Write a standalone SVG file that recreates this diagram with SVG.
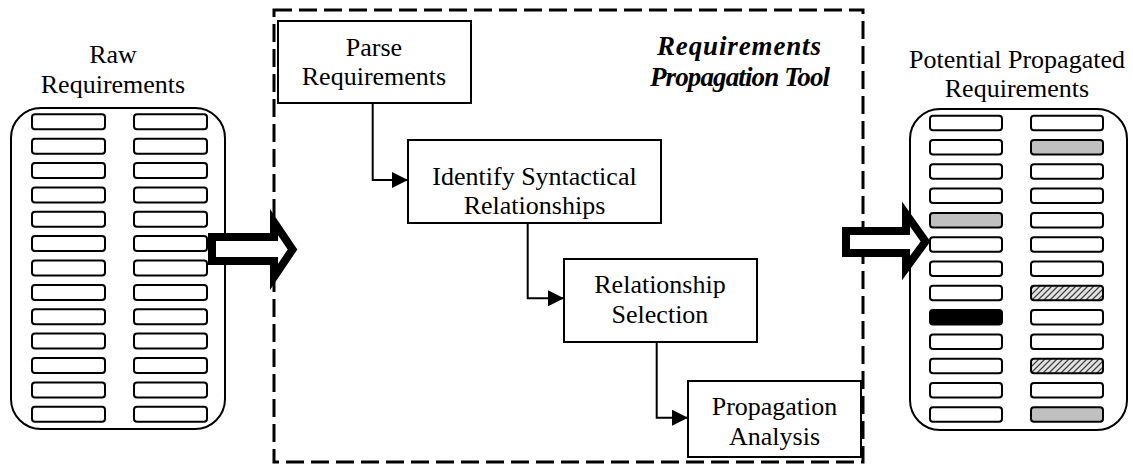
<svg xmlns="http://www.w3.org/2000/svg" width="1133" height="464" viewBox="0 0 1133 464">
  <style>
    .lbl { font-family: "Liberation Serif", "Times New Roman", serif; font-size: 26px; fill: #000; text-anchor: middle; }
    .title { font-family: "Liberation Serif", "Times New Roman", serif; font-size: 27px; font-weight: bold; font-style: italic; fill: #000; text-anchor: middle; }
    .panel { fill: #fff; stroke: #000; stroke-width: 2; }
    .bar { fill: #fff; stroke: #000; stroke-width: 2; }
    .grey { fill: #c0c0c0; }
    .black { fill: #000; }
    .hatch { fill: url(#hatch); }
    .box { fill: #fff; stroke: #000; stroke-width: 2; }
    .conn { fill: none; stroke: #000; stroke-width: 2; }
    .bigarrow { fill: #fff; stroke: #000; stroke-width: 8; stroke-linejoin: miter; stroke-miterlimit: 10; }
    .frame { fill: none; stroke: #000; stroke-width: 3; stroke-dasharray: 18 7; }
  </style>
  <defs>
    <pattern id="hatch" patternUnits="userSpaceOnUse" width="6" height="6">
      <rect width="6" height="6" fill="#e4e4e4"/>
      <path d="M-1,1 L1,-1 M0,6 L6,0 M5,7 L7,5" stroke="#444" stroke-width="1.3"/>
    </pattern>
    <marker id="tri" markerUnits="userSpaceOnUse" markerWidth="16" markerHeight="16" refX="16" refY="8" orient="auto">
      <path d="M0,0 L16,8 L0,16 Z" fill="#000"/>
    </marker>
    <rect id="b1" class="bar" width="73" height="15" rx="3"/>
    <rect id="b2" class="bar" width="72" height="14.5" rx="3"/>
  </defs>

  <!-- Tool boundary -->
  <g id="tool-frame">
    <rect class="frame" x="274" y="10" width="589" height="452"/>
    <text class="title" x="739" y="55" textLength="164" lengthAdjust="spacing">Requirements</text>
    <text class="title" x="740" y="86" textLength="180" lengthAdjust="spacing">Propagation Tool</text>
  </g>

  <!-- Input list -->
  <g id="raw-requirements">
    <text class="lbl" x="113" y="63">Raw</text>
    <text class="lbl" x="113" y="93">Requirements</text>
    <rect class="panel" x="11" y="108" width="214" height="321" rx="30"/>
    <g>
      <use href="#b1" x="32" y="114.3"/><use href="#b1" x="134" y="114.3"/>
      <use href="#b1" x="32" y="138.7"/><use href="#b1" x="134" y="138.7"/>
      <use href="#b1" x="32" y="163.0"/><use href="#b1" x="134" y="163.0"/>
      <use href="#b1" x="32" y="187.4"/><use href="#b1" x="134" y="187.4"/>
      <use href="#b1" x="32" y="211.8"/><use href="#b1" x="134" y="211.8"/>
      <use href="#b1" x="32" y="236.1"/><use href="#b1" x="134" y="236.1"/>
      <use href="#b1" x="32" y="260.5"/><use href="#b1" x="134" y="260.5"/>
      <use href="#b1" x="32" y="284.9"/><use href="#b1" x="134" y="284.9"/>
      <use href="#b1" x="32" y="309.3"/><use href="#b1" x="134" y="309.3"/>
      <use href="#b1" x="32" y="333.6"/><use href="#b1" x="134" y="333.6"/>
      <use href="#b1" x="32" y="358.0"/><use href="#b1" x="134" y="358.0"/>
      <use href="#b1" x="32" y="382.4"/><use href="#b1" x="134" y="382.4"/>
      <use href="#b1" x="32" y="406.7"/><use href="#b1" x="134" y="406.7"/>
    </g>
  </g>

  <!-- Output list -->
  <g id="propagated-requirements">
    <text class="lbl" x="1017" y="68">Potential Propagated</text>
    <text class="lbl" x="1017" y="97">Requirements</text>
    <rect class="panel" x="910" y="109" width="217" height="321" rx="30"/>
    <g>
      <use href="#b2" x="930" y="115.7"/><use href="#b2" x="1031" y="115.7"/>
      <use href="#b2" x="930" y="140.0"/><rect class="bar grey" x="1031" y="140.0" width="72" height="14.5" rx="3"/>
      <use href="#b2" x="930" y="164.3"/><use href="#b2" x="1031" y="164.3"/>
      <use href="#b2" x="930" y="188.6"/><use href="#b2" x="1031" y="188.6"/>
      <rect class="bar grey" x="930" y="212.9" width="72" height="14.5" rx="3"/><use href="#b2" x="1031" y="212.9"/>
      <use href="#b2" x="930" y="237.2"/><use href="#b2" x="1031" y="237.2"/>
      <use href="#b2" x="930" y="261.5"/><use href="#b2" x="1031" y="261.5"/>
      <use href="#b2" x="930" y="285.8"/><rect class="bar hatch" x="1031" y="285.8" width="72" height="14.5" rx="3"/>
      <rect class="bar black" x="930" y="310.1" width="72" height="14.5" rx="3"/><use href="#b2" x="1031" y="310.1"/>
      <use href="#b2" x="930" y="334.4"/><use href="#b2" x="1031" y="334.4"/>
      <use href="#b2" x="930" y="358.7"/><rect class="bar hatch" x="1031" y="358.7" width="72" height="14.5" rx="3"/>
      <use href="#b2" x="930" y="383.0"/><use href="#b2" x="1031" y="383.0"/>
      <use href="#b2" x="930" y="407.3"/><rect class="bar grey" x="1031" y="407.3" width="72" height="14.5" rx="3"/>
    </g>
  </g>

  <!-- Process steps -->
  <g id="parse">
    <rect class="box" x="278" y="21" width="193" height="82"/>
    <text class="lbl" x="374" y="56">Parse</text>
    <text class="lbl" x="374" y="85">Requirements</text>
  </g>
  <g id="identify">
    <rect class="box" x="408" y="140" width="253" height="83"/>
    <text class="lbl" x="534.5" y="185">Identify Syntactical</text>
    <text class="lbl" x="534.5" y="214">Relationships</text>
  </g>
  <g id="selection">
    <rect class="box" x="564" y="259" width="193" height="83"/>
    <text class="lbl" x="660" y="293">Relationship</text>
    <text class="lbl" x="660" y="323">Selection</text>
  </g>
  <g id="analysis">
    <rect class="box" x="688" y="381" width="173" height="76"/>
    <text class="lbl" x="774.5" y="415">Propagation</text>
    <text class="lbl" x="774.5" y="445">Analysis</text>
  </g>

  <!-- Connectors -->
  <g id="connectors">
    <path class="conn" d="M372.7,103 V180 H408" marker-end="url(#tri)"/>
    <path class="conn" d="M527.7,223 V298.3 H564" marker-end="url(#tri)"/>
    <path class="conn" d="M656.7,342 V417.7 H688" marker-end="url(#tri)"/>
    <path class="bigarrow" d="M212,237 H274 V222 L292.5,249.5 L274,277 V261 H212 Z"/>
    <path class="bigarrow" d="M846,231 H906 V214 L925.5,241.5 L906,268 V253 H846 Z"/>
  </g>
</svg>
